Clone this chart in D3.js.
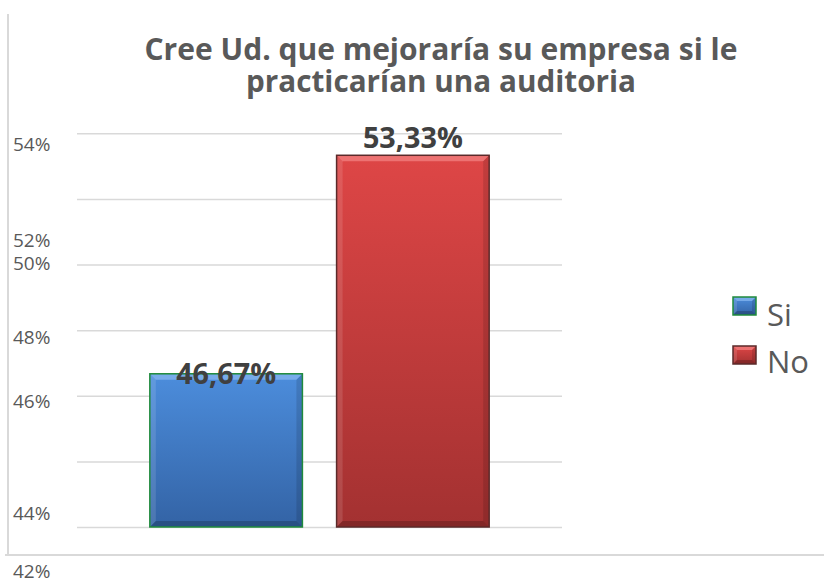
<!DOCTYPE html>
<html>
<head>
<meta charset="utf-8">
<script src="https://cdn.jsdelivr.net/npm/d3@7"></script>
<style>
  body { margin: 0; background: #fff; }
  svg { display: block; font-family: "Open Sans", sans-serif; }
</style>
</head>
<body>
<svg width="824" height="584"></svg>
<script>
// data
const seriesNames = ["Si", "No"];
const seriesValues = [46.67, 53.33];
const yTicks = [42, 44, 46, 48, 50, 52, 54];
const titleLines = ["Cree Ud. que mejoraría su empresa si le", "practicarían una auditoria"];

// layout: in the source the tick labels drift away from their gridlines
const tickLabelShift = { 42: 44, 44: 52, 46: 5, 48: 7, 50: -1, 52: 41, 54: 11 };
const valueLabelDy = [10, -7];
const titleWidths = [593, 390];

const colors = [
  { top: "#4c8ddc", bottom: "#3363a5", edge: "#1f8a3c", light: "#7fb0ec" },
  { top: "#de4646", bottom: "#a33131", edge: "#5b2a2a", light: "#f07a7a" }
];

const svg = d3.select("svg");
const defs = svg.append("defs");

const plot = { left: 77, right: 562, top: 133.3, bottom: 527 };

const y = d3.scaleLinear().domain([42, 54]).range([plot.bottom, plot.top]);
const x = d3.scaleBand().domain(seriesNames).range([plot.left, plot.right])
  .paddingInner(0.183).paddingOuter(0.39);

const deFmt = d3.formatLocale({ decimal: ",", thousands: ".", grouping: [3], currency: ["", "€"] }).format(".2f");

function fitText(sel, width) {
  const w = sel.node().getComputedTextLength();
  const fs = parseFloat(sel.attr("font-size"));
  sel.attr("font-size", fs * width / w);
}

// chart frame (only left and bottom edges are visible)
svg.append("line").attr("x1", 8).attr("x2", 8).attr("y1", 14).attr("y2", 555)
  .attr("stroke", "#d9d9d9").attr("stroke-width", 2);
svg.append("line").attr("x1", 5).attr("x2", 824).attr("y1", 555).attr("y2", 555)
  .attr("stroke", "#d9d9d9").attr("stroke-width", 2);

// title (Calibri-like: tall glyphs squeezed to the source width)
svg.append("g").selectAll("text")
  .data(titleLines)
  .enter()
  .append("text")
  .attr("x", 441)
  .attr("y", (d, i) => 60 + i * 32)
  .attr("text-anchor", "middle")
  .attr("font-weight", "bold")
  .attr("font-size", 30)
  .attr("fill", "#595959")
  .attr("textLength", (d, i) => titleWidths[i])
  .attr("lengthAdjust", "spacingAndGlyphs")
  .text(d => d);

// gridlines
const grid = svg.append("g")
  .attr("transform", `translate(${plot.left},0)`)
  .call(d3.axisLeft(y).tickValues(yTicks).tickSize(-(plot.right - plot.left)).tickFormat(""));
grid.select(".domain").remove();
grid.selectAll("line").attr("stroke", "#d9d9d9").attr("stroke-width", 1.5);

// tick labels
svg.append("g").selectAll("text")
  .data(yTicks)
  .enter()
  .append("text")
  .attr("x", 13)
  .attr("y", d => y(d) + tickLabelShift[d])
  .attr("dy", "0.36em")
  .attr("font-size", 19)
  .attr("fill", "#595959")
  .text(d => d + "%");

// bar gradients
colors.forEach((c, i) => {
  const g = defs.append("linearGradient").attr("id", "grad" + i)
    .attr("x1", 0).attr("x2", 0).attr("y1", 0).attr("y2", 1);
  g.append("stop").attr("offset", "0%").attr("stop-color", c.top);
  g.append("stop").attr("offset", "100%").attr("stop-color", c.bottom);
});

function bevelBox(g, x0, y0, w, h, i, b) {
  const c = colors[i];
  g.append("rect").attr("x", x0).attr("y", y0).attr("width", w).attr("height", h)
    .attr("fill", `url(#grad${i})`);
  // top light bevel
  g.append("path")
    .attr("d", `M${x0},${y0}L${x0 + w},${y0}L${x0 + w - b},${y0 + b}L${x0 + b},${y0 + b}Z`)
    .attr("fill", c.light).attr("opacity", 0.85);
  // left / right / bottom
  g.append("path")
    .attr("d", `M${x0},${y0}L${x0 + b},${y0 + b}L${x0 + b},${y0 + h - b}L${x0},${y0 + h}Z`)
    .attr("fill", "#ffffff").attr("opacity", 0.12);
  g.append("path")
    .attr("d", `M${x0 + w},${y0}L${x0 + w - b},${y0 + b}L${x0 + w - b},${y0 + h - b}L${x0 + w},${y0 + h}Z`)
    .attr("fill", "#000000").attr("opacity", 0.12);
  g.append("path")
    .attr("d", `M${x0},${y0 + h}L${x0 + b},${y0 + h - b}L${x0 + w - b},${y0 + h - b}L${x0 + w},${y0 + h}Z`)
    .attr("fill", "#000000").attr("opacity", 0.2);
  g.append("rect").attr("x", x0).attr("y", y0).attr("width", w).attr("height", h)
    .attr("fill", "none").attr("stroke", c.edge).attr("stroke-width", 1.5);
}

// bars
const bars = svg.append("g");
seriesValues.forEach((v, i) => {
  const x0 = x(seriesNames[i]);
  const y0 = y(v);
  bevelBox(bars, x0, y0, x.bandwidth(), y(42) - y0, i, 6);
});

// value labels
svg.append("g").selectAll("text")
  .data(seriesValues)
  .enter()
  .append("text")
  .attr("x", (d, i) => x(seriesNames[i]) + x.bandwidth() / 2)
  .attr("y", (d, i) => y(d) + valueLabelDy[i])
  .attr("text-anchor", "middle")
  .attr("font-weight", "bold")
  .attr("font-size", 29)
  .attr("fill", "#404040")
  .text(d => deFmt(d) + "%")
  .each(function () { fitText(d3.select(this), 100); });

// legend
const legend = svg.append("g").attr("transform", "translate(733,297)");
seriesNames.forEach((name, i) => {
  const row = legend.append("g").attr("transform", `translate(0,${i * 49})`);
  bevelBox(row, 0, 0, 23, 18, i, 4);
  row.append("text")
    .attr("x", 34).attr("y", i === 0 ? 29 : 27)
    .attr("font-size", 31)
    .attr("fill", "#595959")
    .text(name);
});
</script>
</body>
</html>
